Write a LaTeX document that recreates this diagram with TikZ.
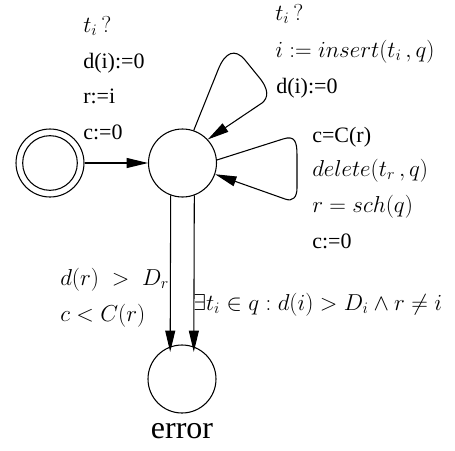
\documentclass[tikz,border=0pt]{standalone}
\usepackage{fontspec}
\setmainfont{Liberation Serif}
\usetikzlibrary{arrows.meta}
\begin{document}
\begin{tikzpicture}[x=0.75pt,y=-0.75pt,
  st/.style={circle,draw,line width=0.8pt,minimum size=51pt,inner sep=0pt},
  lab/.style={anchor=base west,inner sep=0pt,font=\fontsize{16.5}{19}\selectfont},
  mlab/.style={anchor=base west,inner sep=0pt,font=\fontsize{16.5}{19}\selectfont},
  arr/.style={line width=0.8pt,-{Triangle[length=16pt,width=7.5pt]}}]
\useasboundingbox (0,0) rectangle (455,451);
% states
\node[st] (init) at (50,163) {};
\node[circle,draw,line width=0.8pt,minimum size=41pt,inner sep=0pt] (initin) at (50,163) {};
\node[st] (m) at (182.5,163) {};
\node[st] (e) at (182,379) {};
\node[anchor=base,inner sep=0pt,font=\fontsize{24}{28}\selectfont] (elab) at (182,438) {error};
% connectors
\draw[arr] (init) -- (m);
\draw[arr] (m.71) -- (218,70) .. controls (225,52) and (235,48) .. (245,60) -- (258,76) .. controls (270,90) and (268,98) .. (262,103) -- (m.43);
\draw[arr] (m.5) -- (283,139) .. controls (295,135) and (297,142) .. (297,155) -- (297,188) .. controls (297,197) and (293,202) .. (285,199) -- (m.-19);
\draw[arr,shorten >=-4pt] (m.250) -- (e.110);
\draw[arr,shorten >=-4pt] (m.290) -- (e.70);
% labels
\node[mlab] (l1) at (83,32) {$t_i\,?$};
\node[lab] (l2) at (83,68) {d(i):=0};
\node[lab] (l3) at (83,103) {r:=i};
\node[lab] (l4) at (83,139) {c:=0};
\node[mlab] (u1) at (275,20) {$t_i\,?$};
\node[mlab] (u2) at (275,57) {$i := insert(t_i\,,q)$};
\node[lab] (u3) at (276,93) {d(i):=0};
\node[lab] (r1) at (312,142) {c=C(r)};
\node[mlab] (r2) at (312,176) {$delete(t_r\,,q)$};
\node[mlab] (r3) at (312,212) {$r = sch(q)$};
\node[lab] (r4) at (312,248) {c:=0};
\node[mlab] (b1) at (60,285) {$d(r)\;>\;D_r$};
\node[mlab] (b2) at (60,321) {$c<C(r)$};
\node[mlab] (b3) at (193,310) {$\exists t_i\in q:d(i)>D_i\wedge r\neq i$};
\end{tikzpicture}
\end{document}
